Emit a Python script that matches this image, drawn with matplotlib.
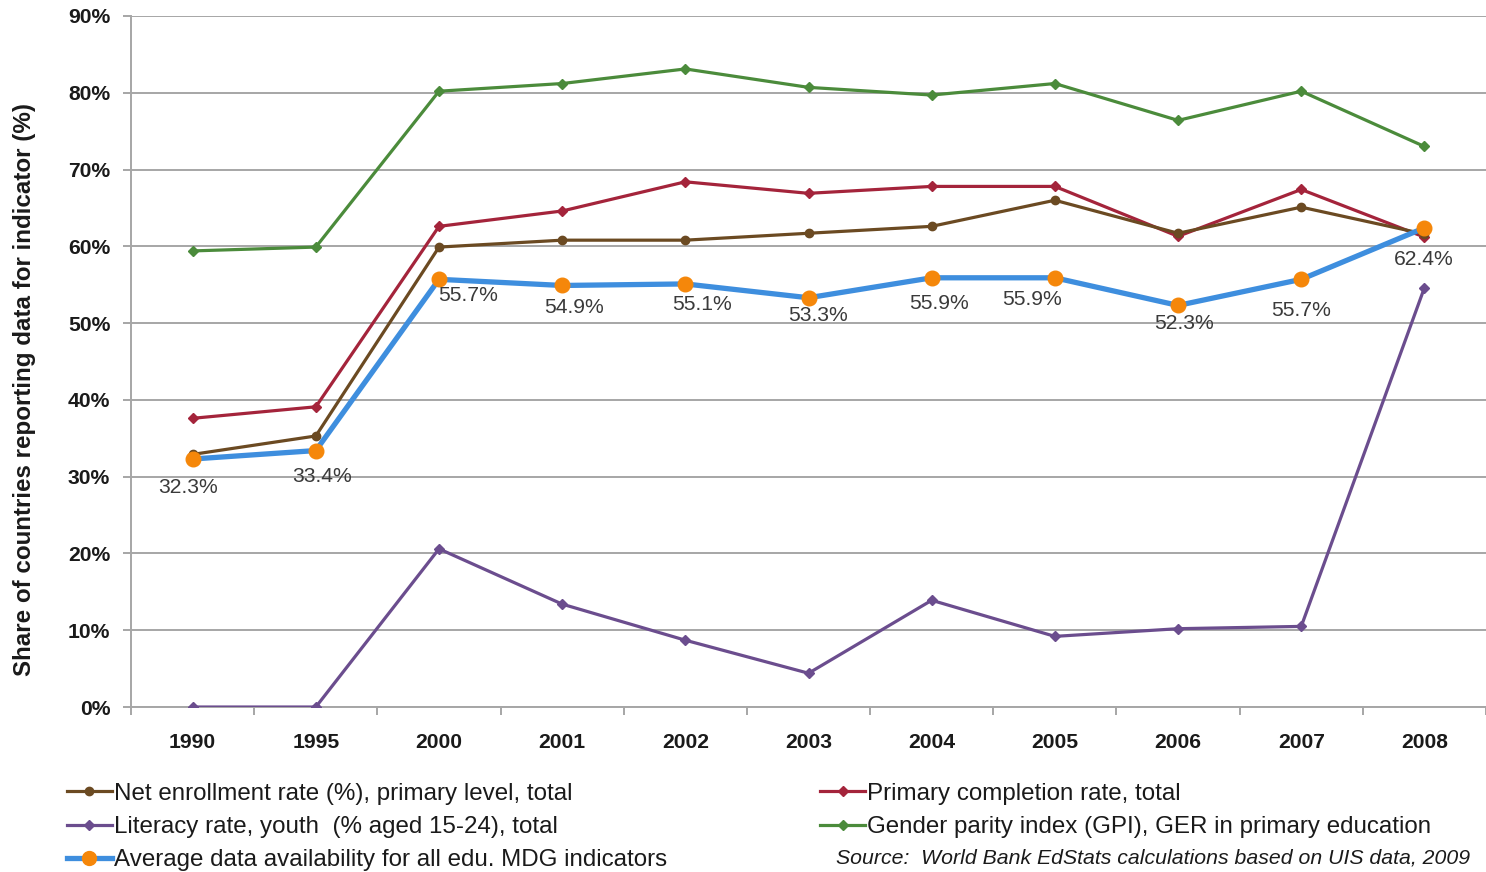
import matplotlib
matplotlib.use("Agg")
import matplotlib.pyplot as plt
from matplotlib.lines import Line2D
from matplotlib.ticker import FixedLocator, FuncFormatter

plt.rcParams["font.family"] = ["Liberation Sans", "DejaVu Sans"]

years = ["1990", "1995", "2000", "2001", "2002", "2003", "2004", "2005", "2006", "2007", "2008"]

net_enrollment = [32.9, 35.3, 59.9, 60.8, 60.8, 61.7, 62.6, 66.0, 61.7, 65.1, 61.6]
primary_completion = [37.6, 39.1, 62.6, 64.6, 68.4, 66.9, 67.8, 67.8, 61.3, 67.4, 61.2]
literacy_youth = [0.0, 0.0, 20.6, 13.4, 8.7, 4.4, 13.9, 9.2, 10.2, 10.5, 54.6]
gender_parity = [59.4, 59.9, 80.2, 81.2, 83.1, 80.7, 79.7, 81.2, 76.4, 80.2, 73.0]
average_availability = [32.3, 33.4, 55.7, 54.9, 55.1, 53.3, 55.9, 55.9, 52.3, 55.7, 62.4]

label_net = "Net enrollment rate (%), primary level, total"
label_lit = "Literacy rate, youth  (% aged 15-24), total"
label_avg = "Average data availability for all edu. MDG indicators"
label_pcr = "Primary completion rate, total"
label_gpi = "Gender parity index (GPI), GER in primary education"
source_note = "Source:  World Bank EdStats calculations based on UIS data, 2009"
y_title = "Share of countries reporting data for indicator (%)"

# pixel offsets of the value labels relative to each average marker
label_offsets = [(-5, -28), (6, -26), (29, -16), (12, -22), (17, -21), (9, -18),
                 (7, -26), (-23, -22), (6, -18), (0, -31), (-1, -32)]

C_BROWN = "#6B4A22"
C_RED = "#A4243B"
C_PURPLE = "#6B4D8E"
C_GREEN = "#4B8B3B"
C_BLUE = "#3E8EDE"
C_ORANGE = "#F5870A"
C_GRID = "#A6A6A6"
C_TEXT = "#1a1a1a"

fig = plt.figure(figsize=(14.86, 8.72), dpi=100)
ax = fig.add_axes([0.0882, 0.1892, 0.9118, 0.7925])

x = list(range(len(years)))

ax.plot(x, gender_parity, color=C_GREEN, lw=2.3, marker="D", ms=5, zorder=3)
ax.plot(x, primary_completion, color=C_RED, lw=2.3, marker="D", ms=5, zorder=3)
ax.plot(x, net_enrollment, color=C_BROWN, lw=2.3, marker="o", ms=6, zorder=4)
ax.plot(x, literacy_youth, color=C_PURPLE, lw=2.3, marker="D", ms=5, zorder=3)
ax.plot(x, average_availability, color=C_BLUE, lw=3.8, zorder=5)
ax.plot(x, average_availability, ls="none", marker="o", ms=10.5,
        color=C_ORANGE, mec=C_ORANGE, zorder=6)

for xi, v, (dx, dy) in zip(x, average_availability, label_offsets):
    ax.annotate(f"{v:.1f}%", (xi, v), xytext=(dx, dy), textcoords="offset pixels",
                ha="center", va="center", fontsize=15.2, color="#3a3a3a", zorder=7)

ax.set_xlim(-0.5, len(years) - 0.5)
ax.set_ylim(0, 90)
ax.set_yticks(range(0, 91, 10))
ax.yaxis.set_major_formatter(FuncFormatter(lambda v, p: f"{int(v)}%"))
ax.set_xticks(x)
ax.set_xticklabels(years)
ax.xaxis.set_minor_locator(FixedLocator([i - 0.5 for i in range(len(years) + 1)]))

ax.grid(axis="y", color=C_GRID, lw=1.4)
ax.set_axisbelow(True)
for side in ("top", "right"):
    ax.spines[side].set_visible(False)
for side in ("left", "bottom"):
    ax.spines[side].set_color(C_GRID)
    ax.spines[side].set_linewidth(1.4)

ax.tick_params(axis="x", which="major", length=0, pad=19, labelsize=15.2)
ax.tick_params(axis="x", which="minor", length=6, width=1.4, color=C_GRID, direction="out")
ax.tick_params(axis="y", length=6, width=1.4, color=C_GRID, pad=9, labelsize=15.2)
for lab in ax.get_xticklabels() + ax.get_yticklabels():
    lab.set_fontweight("bold")
    lab.set_color(C_TEXT)

fig.text(0.0162, 0.553, y_title, rotation=90, ha="center", va="center",
         fontsize=17.4, fontweight="bold", color=C_TEXT)

def handle(color, lw, marker, ms, mcolor=None):
    return Line2D([], [], color=color, lw=lw, marker=marker, ms=ms,
                  markerfacecolor=mcolor or color, markeredgecolor=mcolor or color)

left_handles = [handle(C_BROWN, 2.3, "o", 6), handle(C_PURPLE, 2.3, "D", 5),
                handle(C_BLUE, 3.8, "o", 10, C_ORANGE)]
right_handles = [handle(C_RED, 2.3, "D", 5), handle(C_GREEN, 2.3, "D", 5)]

leg_kw = dict(frameon=False, fontsize=17.4, handlelength=1.85, handletextpad=0.1,
              labelspacing=0.46, borderpad=0, borderaxespad=0, labelcolor=C_TEXT)
fig.legend(left_handles, [label_net, label_lit, label_avg], loc="upper left",
           bbox_to_anchor=(0.045, 0.1022), **leg_kw)
fig.legend(right_handles, [label_pcr, label_gpi], loc="upper left",
           bbox_to_anchor=(0.552, 0.1022), **leg_kw)

fig.text(0.5625, 0.016, source_note, fontsize=15.3, style="italic",
         color=C_TEXT, ha="left", va="center")

fig.savefig("out.png", dpi=100)
